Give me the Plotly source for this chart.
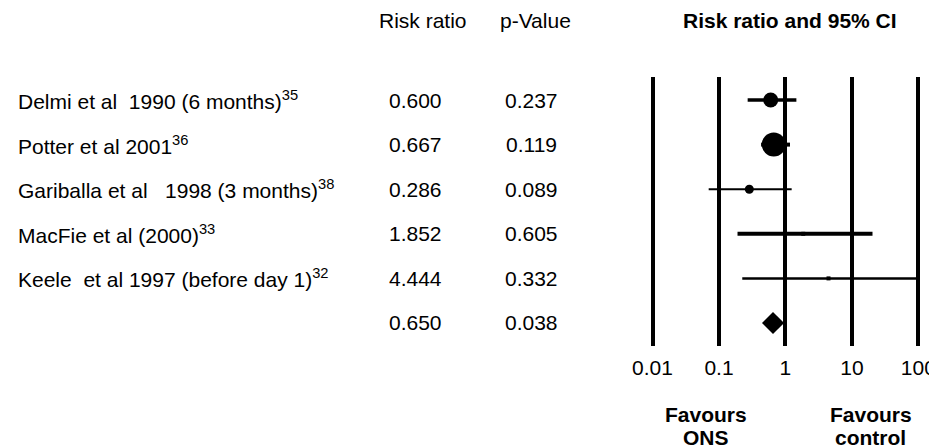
import plotly.graph_objects as go

OFF = 8  # browser body margin: page coords = figure coords + 8
W, H = 937 - OFF, 448 - OFF

studies = [
    "Delmi et al\u00a0 1990 (6 months)<sup>35</sup>",
    "Potter et al 2001<sup>36</sup>",
    "Gariballa et al\u00a0\u00a0 1998 (3 months)<sup>38</sup>",
    "MacFie et al (2000)<sup>33</sup>",
    "Keele\u00a0 et al 1997 (before day 1)<sup>32</sup>",
    "",
]
risk_ratio = [0.600, 0.667, 0.286, 1.852, 4.444, 0.650]
rr_text = ["0.600", "0.667", "0.286", "1.852", "4.444", "0.650"]
p_text = ["0.237", "0.119", "0.089", "0.605", "0.332", "0.038"]
ci_low = [0.27, 0.43, 0.070, 0.19, 0.224]
ci_high = [1.46, 1.17, 1.24, 20.4, 100.0]
rows = [1, 2, 3, 4, 5, 6]
tick_vals = [0.01, 0.1, 1, 10, 100]
tick_text = ["0.01", "0.1", "1", "10", "100"]

# styles
marker_sizes = [15, 24, 9, 4, 4]
marker_symbols = ["circle", "circle", "circle", "square", "square"]
ci_widths = [3.5, 4, 2, 4, 2.5]

FONT = "Liberation Sans, Arial, sans-serif"
FS = 21


def px(x):
    return (x - OFF) / W


def py(y):
    return 1 - (y - OFF) / H


fig = go.Figure()

for i in range(5):
    fig.add_trace(go.Scatter(
        x=[ci_low[i], ci_high[i]], y=[rows[i], rows[i]], mode="lines",
        line=dict(color="black", width=ci_widths[i]), showlegend=False,
        hoverinfo="skip", cliponaxis=False))

fig.add_trace(go.Scatter(
    x=risk_ratio[:5], y=rows[:5], mode="markers",
    marker=dict(color="black", size=marker_sizes, symbol=marker_symbols,
                opacity=1, line=dict(width=0)),
    showlegend=False, cliponaxis=False))

fig.add_trace(go.Scatter(
    x=[risk_ratio[5]], y=[rows[5]], mode="markers",
    marker=dict(color="black", size=17, symbol="diamond", opacity=1,
                line=dict(width=0)),
    showlegend=False, cliponaxis=False))

ann = []
for i in range(6):
    if studies[i]:
        ann.append(dict(x=px(10), y=rows[i], xref="paper", yref="y",
                        text=studies[i], showarrow=False, xanchor="left",
                        yanchor="middle", font=dict(size=FS)))
    ann.append(dict(x=px(413), y=rows[i], xref="paper", yref="y",
                    text=rr_text[i], showarrow=False, xanchor="center",
                    yanchor="middle", font=dict(size=FS)))
    ann.append(dict(x=px(531), y=rows[i], xref="paper", yref="y",
                    text=p_text[i], showarrow=False, xanchor="center",
                    yanchor="middle", font=dict(size=FS)))

ann.append(dict(x=px(421), y=py(21), xref="paper", yref="paper",
                text="Risk ratio", showarrow=False, xanchor="center",
                yanchor="middle", font=dict(size=FS)))
ann.append(dict(x=px(535), y=py(21), xref="paper", yref="paper",
                text="p-Value", showarrow=False, xanchor="center",
                yanchor="middle", font=dict(size=FS)))
ann.append(dict(x=px(792), y=py(21), xref="paper", yref="paper",
                text="<b>Risk ratio and 95% CI</b>", showarrow=False,
                xanchor="center", yanchor="middle", font=dict(size=FS)))
for xc, t1, t2 in [(707, "Favours", "ONS"), (873, "Favours", "control")]:
    ann.append(dict(x=px(xc), y=py(414), xref="paper", yref="paper",
                    text="<b>%s</b>" % t1, showarrow=False, xanchor="center",
                    yanchor="middle", font=dict(size=FS)))
    ann.append(dict(x=px(xc), y=py(437), xref="paper", yref="paper",
                    text="<b>%s</b>" % t2, showarrow=False, xanchor="center",
                    yanchor="middle", font=dict(size=FS)))

fig.update_layout(
    width=W, height=H, margin=dict(l=0, r=0, t=0, b=0),
    paper_bgcolor="white", plot_bgcolor="white",
    font=dict(family=FONT, color="black", size=FS),
    annotations=ann,
    xaxis=dict(type="log", range=[-2.22, 2.22],
               domain=[px(638), px(936)],
               tickvals=tick_vals, ticktext=tick_text,
               showgrid=True, gridcolor="black", gridwidth=3.5,
               zeroline=False, showline=False,
               ticks="outside", ticklen=3, tickcolor="rgba(0,0,0,0)",
               ticklabeloverflow="allow",
               tickfont=dict(size=FS), fixedrange=True),
    yaxis=dict(range=[6.516, 0.484], domain=[py(346), py(77)],
               showgrid=False, zeroline=False, showline=False,
               showticklabels=False, ticks="", fixedrange=True),
)

fig.write_html("out.html")
